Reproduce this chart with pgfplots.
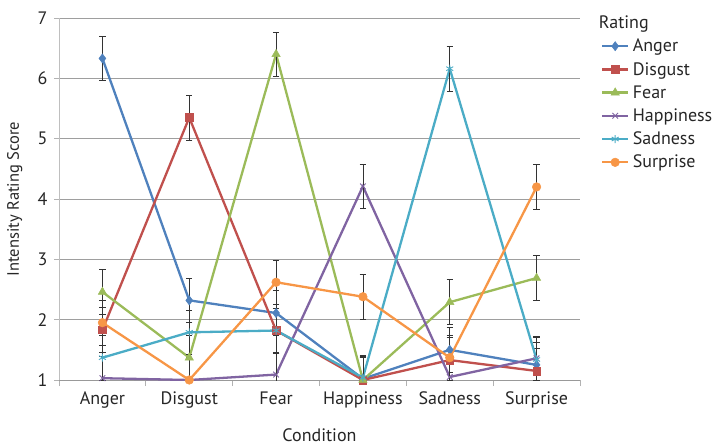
\documentclass[border=0pt]{standalone}
\usepackage{fontspec}
\setmainfont{PT Sans}
\usepackage{pgfplots}
\pgfplotsset{compat=1.18}
\definecolor{cA}{HTML}{4F81BD}
\definecolor{cD}{HTML}{C0504D}
\definecolor{cF}{HTML}{9BBB59}
\definecolor{cH}{HTML}{8064A2}
\definecolor{cS}{HTML}{4BACC6}
\definecolor{cU}{HTML}{F79646}
\begin{document}
\begin{tikzpicture}
\path[use as bounding box] (-59bp,-66bp) rectangle (657bp,380bp);
\begin{axis}[
  at={(0,0)}, anchor=south west,
  scale only axis, width=521bp, height=362bp,
  xmin=0, xmax=6, ymin=1, ymax=7,
  font=\fontsize{18bp}{21bp}\selectfont,
  /pgf/number format/assume math mode=true,
  xtick={0.5,1.5,2.5,3.5,4.5,5.5},
  xticklabels={Anger,Disgust,Fear,Happiness,Sadness,Surprise},
  minor xtick={0,1,2,3,4,5,6},
  ytick={1,2,3,4,5,6,7},
  tick align=outside,
  major x tick style={draw=none},
  minor tick length=6bp, major tick length=5bp,
  every tick/.style={color=black!30, line width=0.8bp},
  axis x line*=bottom, axis y line*=left,
  x axis line style={-, color=black!40, line width=1bp},
  y axis line style={-, color=black!25, line width=1bp},
  ymajorgrids, grid style={color=black!38, line width=0.9bp},
  xticklabel style={yshift=-3bp, text=black!85},
  yticklabel style={xshift=-3bp, text=black!85},
  xlabel={Condition}, ylabel={Intensity Rating Score},
  xlabel style={at={(axis description cs:0.5,-0.152)}, anchor=center, text=black!85},
  ylabel style={at={(axis description cs:-0.085,0.5)}, anchor=center, text=black!85, font=\fontsize{16.5bp}{19bp}\selectfont},
  legend style={at={(rel axis cs:1.04,1.012)}, anchor=north west, draw=none, fill=none,
    font=\fontsize{18bp}{21bp}\selectfont, row sep=5bp, inner sep=0pt,
    nodes={text=black!85, inner xsep=3.5bp}},
  legend cell align=left,
  legend image code/.code={\draw[#1] (0bp,0bp) -- (26bp,0bp); \draw[#1, mark repeat=2, mark phase=2] plot coordinates {(0bp,0bp) (13bp,0bp) (26bp,0bp)};},
  every axis plot/.append style={line width=2.3bp},
  error bars/y dir=both, error bars/y explicit,
  error bars/error bar style={black!80, line width=0.7bp, solid},
  error bars/error mark options={rotate=90, mark size=3.2bp, black!80, line width=0.7bp},
  clip=true,
]
\addlegendimage{empty legend}
\addlegendentry{\hspace*{-34bp}Rating}
\addplot[cA, mark=diamond*, mark size=4.6bp, mark options={solid, fill=cA, line width=0.5bp}] coordinates {
 (0.5,6.33) +- (0,0.37)
 (1.5,2.32) +- (0,0.37)
 (2.5,2.11) +- (0,0.37)
 (3.5,1.02) +- (0,0.37)
 (4.5,1.50) +- (0,0.37)
 (5.5,1.25) +- (0,0.37)
};
\addlegendentry{Anger}
\addplot[cD, mark=square*, mark size=3.8bp, mark options={solid, fill=cD, line width=0.5bp}] coordinates {
 (0.5,1.83) +- (0,0.37)
 (1.5,5.35) +- (0,0.37)
 (2.5,1.82) +- (0,0.37)
 (3.5,1.00) +- (0,0.37)
 (4.5,1.33) +- (0,0.37)
 (5.5,1.15) +- (0,0.37)
};
\addlegendentry{Disgust}
\addplot[cF, mark=triangle*, mark size=4.8bp, mark options={solid, fill=cF, line width=0.5bp}] coordinates {
 (0.5,2.46) +- (0,0.37)
 (1.5,1.37) +- (0,0.37)
 (2.5,6.40) +- (0,0.37)
 (3.5,1.00) +- (0,0.37)
 (4.5,2.29) +- (0,0.37)
 (5.5,2.69) +- (0,0.37)
};
\addlegendentry{Fear}
\addplot[cH, mark=x, mark size=4bp, mark options={solid, line width=0.9bp}] coordinates {
 (0.5,1.03) +- (0,0.37)
 (1.5,1.00) +- (0,0.37)
 (2.5,1.09) +- (0,0.37)
 (3.5,4.21) +- (0,0.37)
 (4.5,1.05) +- (0,0.37)
 (5.5,1.36) +- (0,0.37)
};
\addlegendentry{Happiness}
\addplot[cS, mark=asterisk, mark size=4bp, mark options={solid, line width=0.9bp}] coordinates {
 (0.5,1.37) +- (0,0.37)
 (1.5,1.79) +- (0,0.37)
 (2.5,1.82) +- (0,0.37)
 (3.5,1.04) +- (0,0.37)
 (4.5,6.16) +- (0,0.37)
 (5.5,1.34) +- (0,0.37)
};
\addlegendentry{Sadness}
\addplot[cU, mark=*, mark size=4.3bp, mark options={solid, fill=cU, line width=0.5bp}] coordinates {
 (0.5,1.95) +- (0,0.37)
 (1.5,1.00) +- (0,0.37)
 (2.5,2.62) +- (0,0.37)
 (3.5,2.38) +- (0,0.37)
 (4.5,1.37) +- (0,0.37)
 (5.5,4.20) +- (0,0.37)
};
\addlegendentry{Surprise}
\end{axis}
\end{tikzpicture}
\end{document}
